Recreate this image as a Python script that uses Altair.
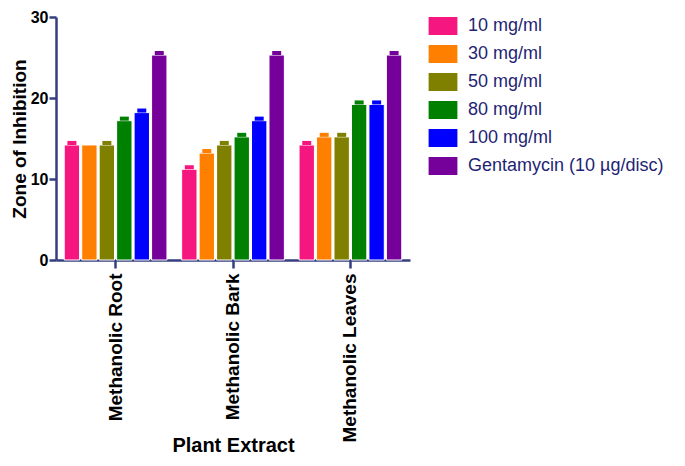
import altair as alt
import pandas as pd

groups = ["Methanolic Root", "Methanolic Bark", "Methanolic Leaves"]
series = ["10 mg/ml", "30 mg/ml", "50 mg/ml", "80 mg/ml", "100 mg/ml", "Gentamycin (10 µg/disc)"]
colors = ["#F5177F", "#FF8000", "#808000", "#008000", "#0000FF", "#76009A"]

root_mean = [14.2, 14.2, 14.2, 17.2, 18.2, 25.3]
bark_mean = [11.2, 13.2, 14.2, 15.2, 17.2, 25.3]
leaves_mean = [14.2, 15.2, 15.2, 19.2, 19.2, 25.3]
root_err = [0.5, 0.0, 0.5, 0.5, 0.5, 0.5]
bark_err = [0.5, 0.5, 0.5, 0.5, 0.5, 0.5]
leaves_err = [0.5, 0.5, 0.5, 0.5, 0.5, 0.5]

y_ticks = [0, 10, 20, 30]

rows = []
for g, means, errs in zip(groups, [root_mean, bark_mean, leaves_mean], [root_err, bark_err, leaves_err]):
    for s, m, e in zip(series, means, errs):
        rows.append({"group": g, "series": s, "mean": m, "hi": m + e})
df = pd.DataFrame(rows)

axis_color = "#363E80"
font = "Liberation Sans"

x = alt.X(
    "group:N", sort=groups, title="Plant Extract",
    scale=alt.Scale(paddingInner=0.125, paddingOuter=0.07),
    axis=alt.Axis(labelAngle=-90, labelAlign="right", labelBaseline="middle",
                  labelFont=font, labelFontSize=19, labelFontWeight="bold", labelColor="black",
                  labelPadding=5, tickSize=8, tickWidth=2.5, tickColor=axis_color,
                  domainColor=axis_color, domainWidth=2.5,
                  titleFont=font, titleFontSize=20, titleFontWeight="bold", titleColor="black",
                  titleBaseline="alphabetic", titleY=191),
)
xo = alt.XOffset("series:N", sort=series, scale=alt.Scale(paddingInner=0.12, paddingOuter=0))
y = alt.Y(
    "mean:Q", title="Zone of Inhibition",
    scale=alt.Scale(domain=[0, 30], nice=False),
    axis=alt.Axis(values=y_ticks, grid=False, labelFont=font, labelFontSize=16, labelFontWeight="bold",
                  labelColor="black", labelPadding=1, tickSize=7, tickWidth=2.5, tickColor=axis_color,
                  domainColor=axis_color, domainWidth=2.5,
                  titleFont=font, titleFontSize=19, titleFontWeight="bold", titleColor="black",
                  titlePadding=1),
)
legend = alt.Legend(title=None, symbolType="M-1.6,-1H1.6V1H-1.6Z", symbolSize=324,
                    symbolStrokeWidth=0, symbolOpacity=1, labelLimit=400,
                    labelFont=font, labelFontSize=18, labelColor="#1F1F75",
                    offset=24, padding=0, rowPadding=10, labelOffset=16)
color = alt.Color("series:N", sort=series, scale=alt.Scale(domain=series, range=colors), legend=legend)

err = alt.Chart(df).mark_rule(strokeWidth=9).encode(
    x=x, xOffset=xo, y=y, y2="hi:Q", color=color,
)
bars = alt.Chart(df).mark_bar(stroke="white", strokeWidth=1).encode(
    x=x, xOffset=xo, y=y, color=color,
)

chart = alt.layer(bars, err).properties(
    width=354, height=243,
    padding={"left": 48, "top": 9, "right": 267, "bottom": 198},
    autosize=alt.AutoSizeParams(type="none"),
).configure_view(stroke=None)

chart.save("out.html", embed_options={"renderer": "svg", "actions": False})
